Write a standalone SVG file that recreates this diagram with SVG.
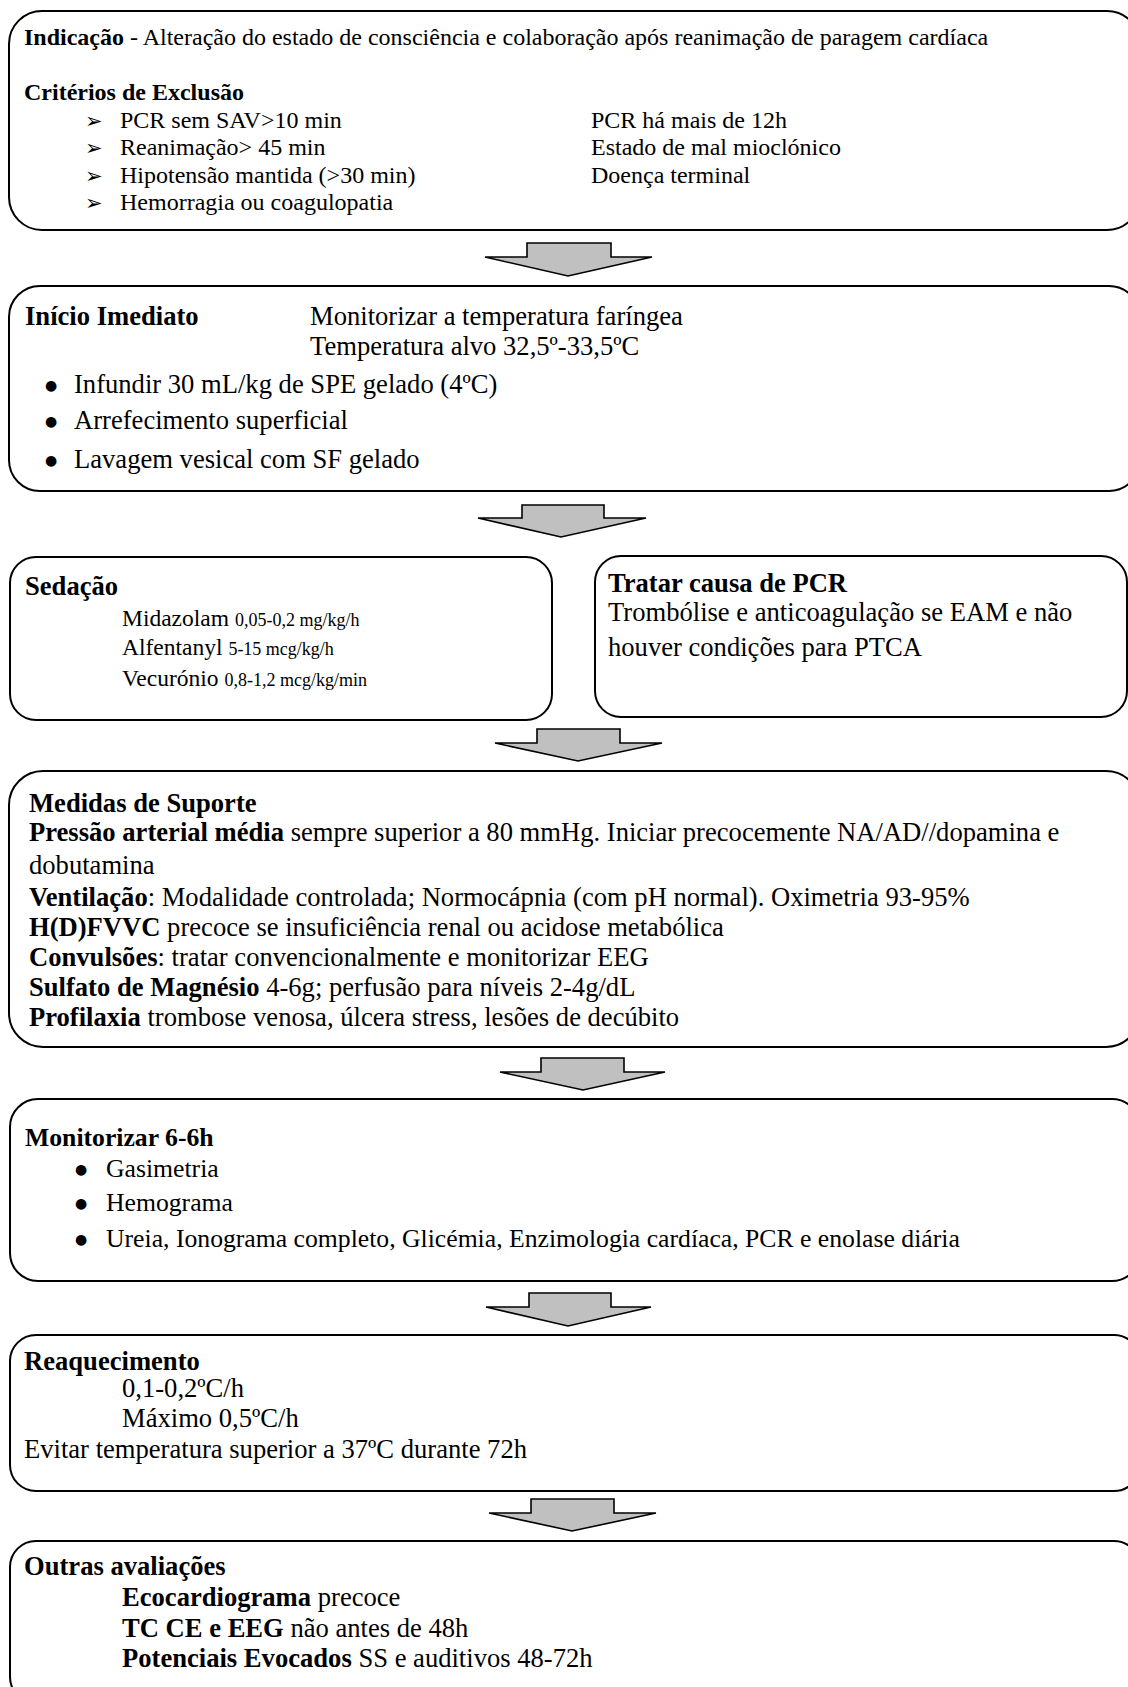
<svg xmlns="http://www.w3.org/2000/svg" width="1128" height="1687" viewBox="0 0 1128 1687">
<style>
.box{fill:#fff;stroke:#000;stroke-width:2}
.arr{fill:#c0c0c0;stroke:#000;stroke-width:1.6;stroke-linejoin:miter}
text{font-family:"Liberation Serif","Times New Roman",serif;fill:#000}
.t24{font-size:24px}
.t{font-size:26.6px}
.t6{font-size:25.7px}
.d{font-size:23.5px}
.b{font-weight:bold}
.s{font-size:18px}
.sym{font-family:"DejaVu Sans",sans-serif;font-size:21px}
.dot{font-family:"DejaVu Sans",sans-serif;font-size:14px;text-anchor:middle}
</style>
<rect x="0" y="0" width="1128" height="1687" fill="#fff"/>

<g id="connectors">
<polygon class="arr" points="527,243 611,243 611,257 652,257 568,276 485,257 527,257"/>
<polygon class="arr" points="522,505 604,505 604,518 646,518 561,537 478,518 522,518"/>
<polygon class="arr" points="537,729 620,729 620,743 662,743 578,761 495,743 537,743"/>
<polygon class="arr" points="541,1058 624,1058 624,1072 665,1072 583,1090 500,1072 541,1072"/>
<polygon class="arr" points="529,1293 611,1293 611,1307 651,1307 568,1326 486,1307 529,1307"/>
<polygon class="arr" points="531,1499 614,1499 614,1513 656,1513 572,1531 489,1513 531,1513"/>
</g>

<g id="indicacao">
<rect class="box" x="9" y="11" width="1131" height="219" rx="33" ry="33"/>
<text class="t24" x="24" y="45"><tspan class="b">Indicação</tspan> - Alteração do estado de consciência e colaboração após reanimação de paragem cardíaca</text>
<text class="t24 b" x="24" y="100">Critérios de Exclusão</text>
<text class="sym" x="85" y="128">➢</text>
<text class="sym" x="85" y="155">➢</text>
<text class="sym" x="85" y="183">➢</text>
<text class="sym" x="85" y="210">➢</text>
<text class="t24" x="120" y="128">PCR sem SAV&gt;10 min</text>
<text class="t24" x="120" y="155">Reanimação&gt; 45 min</text>
<text class="t24" x="120" y="183">Hipotensão mantida (&gt;30 min)</text>
<text class="t24" x="120" y="210">Hemorragia ou coagulopatia</text>
<text class="t24" x="591" y="128">PCR há mais de 12h</text>
<text class="t24" x="591" y="155">Estado de mal mioclónico</text>
<text class="t24" x="591" y="183">Doença terminal</text>
</g>

<g id="inicio">
<rect class="box" x="9" y="286" width="1131" height="205" rx="31" ry="31"/>
<text class="t b" x="25" y="325">Início Imediato</text>
<text class="t" x="310" y="325">Monitorizar a temperatura faríngea</text>
<text class="t" x="310" y="355">Temperatura alvo 32,5º-33,5ºC</text>
<text class="dot" x="51" y="390">●</text>
<text class="dot" x="51" y="426">●</text>
<text class="dot" x="51" y="465">●</text>
<text class="t" x="74" y="393">Infundir 30 mL/kg de SPE gelado (4ºC)</text>
<text class="t" x="74" y="429">Arrefecimento superficial</text>
<text class="t" x="74" y="468">Lavagem vesical com SF gelado</text>
</g>

<g id="sedacao">
<rect class="box" x="10" y="557" width="542" height="163" rx="26" ry="26"/>
<text class="t b" x="25" y="595">Sedação</text>
<text class="d" x="122" y="626">Midazolam <tspan class="s">0,05-0,2 mg/kg/h</tspan></text>
<text class="d" x="122" y="655">Alfentanyl <tspan class="s">5-15 mcg/kg/h</tspan></text>
<text class="d" x="122" y="686">Vecurónio <tspan class="s">0,8-1,2 mcg/kg/min</tspan></text>
</g>

<g id="tratar">
<rect class="box" x="595" y="556" width="532" height="161" rx="26" ry="26"/>
<text class="t b" x="608" y="592">Tratar causa de PCR</text>
<text class="t" x="608" y="621">Trombólise e anticoagulação se EAM e não</text>
<text class="t" x="608" y="656">houver condições para PTCA</text>
</g>

<g id="suporte">
<rect class="box" x="9" y="771" width="1131" height="276" rx="34" ry="34"/>
<text class="t b" x="29" y="812">Medidas de Suporte</text>
<text class="t" x="29" y="841"><tspan class="b">Pressão arterial média</tspan> sempre superior a 80 mmHg. Iniciar precocemente NA/AD//dopamina e</text>
<text class="t" x="29" y="874">dobutamina</text>
<text class="t" x="29" y="906"><tspan class="b">Ventilação</tspan>: Modalidade controlada; Normocápnia (com pH normal). Oximetria 93-95%</text>
<text class="t" x="29" y="936"><tspan class="b">H(D)FVVC</tspan> precoce se insuficiência renal ou acidose metabólica</text>
<text class="t" x="29" y="966"><tspan class="b">Convulsões</tspan>: tratar convencionalmente e monitorizar EEG</text>
<text class="t" x="29" y="996"><tspan class="b">Sulfato de Magnésio</tspan> 4-6g; perfusão para níveis 2-4g/dL</text>
<text class="t" x="29" y="1026"><tspan class="b">Profilaxia</tspan> trombose venosa, úlcera stress, lesões de decúbito</text>
</g>

<g id="monitorizar">
<rect class="box" x="10" y="1099" width="1130" height="182" rx="28" ry="28"/>
<text class="t6 b" x="25" y="1146">Monitorizar 6-6h</text>
<text class="dot" x="81" y="1174">●</text>
<text class="dot" x="81" y="1208">●</text>
<text class="dot" x="81" y="1244">●</text>
<text class="t6" x="106" y="1177">Gasimetria</text>
<text class="t6" x="106" y="1211">Hemograma</text>
<text class="t6" x="106" y="1247">Ureia, Ionograma completo, Glicémia, Enzimologia cardíaca, PCR e enolase diária</text>
</g>

<g id="reaquecimento">
<rect class="box" x="10" y="1335" width="1130" height="156" rx="26" ry="26"/>
<text class="t b" x="24" y="1370">Reaquecimento</text>
<text class="t" x="122" y="1397">0,1-0,2ºC/h</text>
<text class="t" x="122" y="1427">Máximo 0,5ºC/h</text>
<text class="t" x="24" y="1458">Evitar temperatura superior a 37ºC durante 72h</text>
</g>

<g id="outras">
<rect class="box" x="10" y="1541" width="1130" height="162" rx="26" ry="26"/>
<text class="t b" x="24" y="1575">Outras avaliações</text>
<text class="t" x="122" y="1606"><tspan class="b">Ecocardiograma</tspan> precoce</text>
<text class="t" x="122" y="1637"><tspan class="b">TC CE e EEG</tspan> não antes de 48h</text>
<text class="t" x="122" y="1667"><tspan class="b">Potenciais Evocados</tspan> SS e auditivos 48-72h</text>
</g>
</svg>
